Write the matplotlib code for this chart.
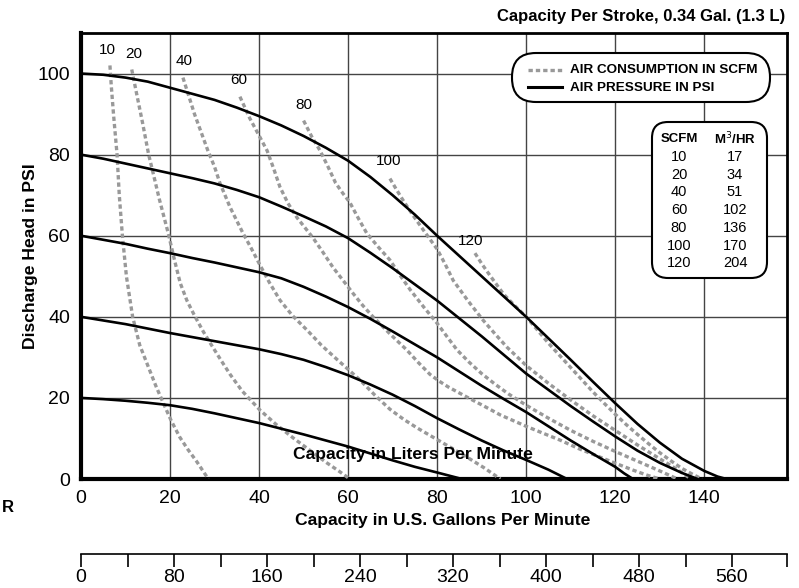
import matplotlib
matplotlib.use('Agg')
import matplotlib.pyplot as plt
from matplotlib.patches import FancyBboxPatch
from matplotlib.lines import Line2D

plt.rcParams['font.family'] = ['Liberation Sans', 'DejaVu Sans']

# air pressure curves (PSI): gallons per minute vs discharge head
psi_100_x = [0, 5, 10, 15, 20, 25, 30, 35, 40, 45, 50, 55, 60, 65, 70, 75, 80, 85, 90, 95, 100,
             105, 110, 115, 120, 125, 130, 135, 140, 143, 145]
psi_100_y = [100, 99.7, 99, 98, 96.5, 95, 93.5, 91.6, 89.5, 87.2, 84.6, 81.7, 78.5, 74.5, 70, 65.2, 60,
             55, 50, 45, 40, 34.7, 29.4, 24, 18.7, 13.6, 9, 5, 2, 0.6, 0]
psi_80_x = [0, 5, 10, 15, 20, 25, 30, 35, 40, 45, 50, 55, 60, 65, 70, 75, 80, 85, 90, 95, 100,
            105, 110, 115, 120, 125, 130, 135, 138.5]
psi_80_y = [80, 79, 77.8, 76.6, 75.4, 74.2, 72.9, 71.3, 69.5, 67.2, 64.8, 62.3, 59.4, 55.8, 52, 48, 44,
            39.6, 35.2, 30.6, 26, 22, 18, 14.2, 10.5, 7, 4, 1.5, 0]
psi_60_x = [0, 5, 10, 15, 20, 25, 30, 35, 40, 45, 50, 55, 60, 65, 70, 75, 80, 85, 90, 95, 100,
            105, 110, 115, 120, 122, 124]
psi_60_y = [60, 59, 58, 56.8, 55.7, 54.5, 53.4, 52.2, 51, 49.5, 47.4, 45, 42.4, 39.5, 36.4, 33.2, 30,
            26.5, 23, 19.7, 16.5, 13, 9.5, 6.2, 3, 1.4, 0]
psi_40_x = [0, 5, 10, 15, 20, 25, 30, 35, 40, 45, 50, 55, 60, 65, 70, 75, 80, 85, 90, 95, 100,
            105, 109.2]
psi_40_y = [40, 39.1, 38.2, 37.1, 36, 35, 34, 33, 32, 30.8, 29.4, 27.6, 25.6, 23.3, 20.8, 18, 15,
            12.2, 9.5, 7, 4.7, 2.3, 0]
psi_20_x = [0, 5, 10, 15, 20, 25, 30, 35, 40, 45, 50, 55, 60, 65, 70, 75, 80, 85.6]
psi_20_y = [20, 19.7, 19.3, 18.8, 18.2, 17.3, 16.2, 15, 13.8, 12.4, 11, 9.5, 8, 6.3, 4.6, 3, 1.6, 0]

# air consumption curves (SCFM)
scfm_10_x = [6.5, 6.8, 7.3, 7.7, 8.1, 8.6, 9.3, 10.2, 11.6, 13.2, 15, 16.8, 18.5, 20.3, 22.2, 24, 26, 28.6]
scfm_10_y = [102, 97, 90, 85, 80, 70, 60, 50, 40, 33, 28, 23, 18.7, 14.3, 10.3, 7.3, 4.3, 0]
scfm_20_x = [11.4, 12.5, 13.8, 15.2, 16.3, 17.6, 19.6, 21, 22.3, 23.8, 25.5, 27.5, 29.5, 31.5, 33.5,
             36.2, 40.2, 44, 47.7, 51.5, 55.2, 58, 60.4]
scfm_20_y = [101, 95, 88, 80, 75, 69, 60.6, 54, 48.3, 44, 40.3, 36.3, 32.7, 29.2, 25.8,
             21.7, 17, 13.3, 10.1, 7, 4, 1.9, 0]
scfm_40_x = [22.9, 24.2, 25.5, 27, 28.5, 30, 31.2, 33.5, 36.4, 38.2, 40, 42.3, 44.7, 47.5, 50.8, 54,
             57.5, 62.7, 66, 69.4, 72.5, 75.5, 79.1, 83, 86.7, 90.5, 94.2]
scfm_40_y = [99, 94.5, 90, 85.5, 81, 77, 73, 67, 60.6, 57, 53.2, 48.5, 44.1, 40.3, 36.7, 33,
             29.5, 24.4, 20.7, 17.2, 14.7, 12.6, 10.3, 7.8, 5.4, 2.8, 0]
scfm_60_x = [35.7, 37.9, 40.2, 41.8, 43.3, 44.7, 46.5, 48.5, 50.3, 52.1, 54.3, 56.6, 59, 61.1, 63.3,
             65.6, 69.4, 73.2, 75.8, 78.4, 80.5, 82.5, 86.7, 90.5, 94.2, 100, 104, 107.6, 112, 116.6,
             120, 124, 127, 130]
scfm_60_y = [94.3, 89, 84.3, 81, 76.5, 72, 68, 64.5, 62, 59.5, 56, 52.2, 48.8, 45.8, 42.8,
             40, 35.8, 31.8, 28.7, 25.8, 24.1, 22.7, 20.2, 18, 15.8, 13, 11.2, 9.6, 7.4, 5.4,
             3.9, 2.2, 1, 0]
scfm_80_x = [50, 51.8, 53.7, 55.5, 57.2, 58.8, 60.4, 62.3, 64.2, 66.8, 69.4, 71.7, 74, 77, 80, 82.3,
             84.5, 87.2, 90, 93, 96, 100, 105, 110, 115, 120, 125, 130, 134]
scfm_80_y = [88.4, 84.5, 81, 77, 73, 70.5, 68.2, 64.3, 60.6, 57.2, 54, 50.2, 46.6, 42.4, 38.4, 35,
             31.8, 28.8, 26, 23.4, 21, 18.2, 15, 12, 9.3, 6.8, 4.4, 2, 0]
scfm_100_x = [69.4, 70.8, 72.2, 74.6, 77.3, 80, 81.8, 83.6, 86.9, 90.3, 93, 95.7, 100, 105, 110, 115,
              120, 125, 130, 134, 137]
scfm_100_y = [74.1, 71.5, 69, 65, 60.8, 56.7, 53, 49, 44, 39.2, 35.8, 32.5, 28, 23.6, 19.5, 15.6,
              12, 8.4, 5, 2.3, 0]
scfm_120_x = [88.5, 90.2, 92, 95, 97.5, 100, 102.5, 105, 107.5, 110, 112.5, 115, 117.5, 120, 122.5,
              125, 127.5, 130, 132.5, 135, 137.5, 139.5]
scfm_120_y = [55.7, 52.8, 50, 45.5, 42.7, 40, 36.8, 33.5, 30.5, 27.5, 24.5, 21.5, 18.7, 16, 13.4,
              11, 8.7, 6.5, 4.5, 2.6, 1.1, 0]

psi_curves = [(psi_100_x, psi_100_y), (psi_80_x, psi_80_y), (psi_60_x, psi_60_y),
              (psi_40_x, psi_40_y), (psi_20_x, psi_20_y)]
scfm_curves = [(scfm_10_x, scfm_10_y), (scfm_20_x, scfm_20_y), (scfm_40_x, scfm_40_y),
               (scfm_60_x, scfm_60_y), (scfm_80_x, scfm_80_y), (scfm_100_x, scfm_100_y),
               (scfm_120_x, scfm_120_y)]

scfm_labels = ['10', '20', '40', '60', '80', '100', '120']
scfm_label_x = [6, 11.8, 23.2, 35.5, 50, 69, 87.5]
scfm_label_y = [105.8, 104.8, 103.2, 98.5, 92.3, 78.5, 58.8]

table_scfm = ['10', '20', '40', '60', '80', '100', '120']
table_m3hr = ['17', '34', '51', '102', '136', '170', '204']

gal_ticks = [0, 20, 40, 60, 80, 100, 120, 140]
psi_ticks = [0, 20, 40, 60, 80, 100]
liter_labels = [0, 80, 160, 240, 320, 400, 480, 560]

W, H = 799, 588
fig = plt.figure(figsize=(W / 100, H / 100), dpi=100)
ax = fig.add_axes([81 / W, 1 - 479 / H, (787 - 81) / W, (479 - 33) / H])

dash = (0, (1.3, 0.9))
for x, y in scfm_curves:
    ax.plot(x, y, color='#999999', lw=2.4, ls=dash, zorder=3)
for x, y in psi_curves:
    ax.plot(x, y, color='black', lw=1.9, zorder=4, solid_joinstyle='round')

for lab, lx, ly in zip(scfm_labels, scfm_label_x, scfm_label_y):
    ax.text(lx, ly, lab, fontsize=11, ha='center', va='center', zorder=5)

ax.set_xlim(0, 158.6)
ax.set_ylim(0, 110)
ax.set_xticks(gal_ticks)
ax.set_yticks(psi_ticks)
ax.tick_params(length=0, labelsize=14, pad=8)
ax.grid(True, color='#444444', lw=1.0, zorder=1)
ax.set_axisbelow(True)
for side in ['left', 'bottom']:
    ax.spines[side].set_linewidth(3)
for side in ['top', 'right']:
    ax.spines[side].set_linewidth(2)

ax.set_xlabel('Capacity in U.S. Gallons Per Minute', fontsize=12.6, fontweight='bold')
ax.xaxis.set_label_coords((443 - 81) / 706, (479 - 513) / 446)
ax.set_ylabel('Discharge Head in PSI', fontsize=12.6, fontweight='bold')
ax.yaxis.set_label_coords((38 - 81) / 706, 0.5)
ax.text((413 - 81) / 706, (479 - 455) / 446, 'Capacity in Liters Per Minute', transform=ax.transAxes,
        fontsize=12.6, fontweight='bold', ha='center', va='center', zorder=6)

fig.text(785 / W, 1 - 16 / H, 'Capacity Per Stroke, 0.34 Gal. (1.3 L)', fontsize=12,
         fontweight='bold', ha='right', va='center')
fig.text(2 / W, 1 - 508 / H, 'R', fontsize=12, fontweight='bold', ha='left', va='center')


def fig_box(x0, y0, x1, y1, rad):
    b = FancyBboxPatch((x0 / W, 1 - y1 / H), (x1 - x0) / W, (y1 - y0) / H,
                       boxstyle='round,pad=0,rounding_size=%f' % rad,
                       transform=fig.transFigure, facecolor='white', edgecolor='black',
                       lw=1.5, zorder=10, mutation_aspect=W / H)
    fig.add_artist(b)


# legend box
fig_box(512, 53, 770, 102, 0.03)
fig.add_artist(Line2D([528 / W, 562 / W], [1 - 70 / H, 1 - 70 / H], color='#999999', lw=2.4,
                      ls=dash, transform=fig.transFigure, zorder=11))
fig.add_artist(Line2D([528 / W, 562 / W], [1 - 87 / H, 1 - 87 / H], color='black', lw=2.2,
                      transform=fig.transFigure, zorder=11))
fig.text(570 / W, 1 - 70 / H, 'AIR CONSUMPTION IN SCFM', fontsize=9.7, fontweight='bold',
         va='center', ha='left', zorder=12)
fig.text(570 / W, 1 - 88 / H, 'AIR PRESSURE IN PSI', fontsize=9.7, fontweight='bold',
         va='center', ha='left', zorder=12)

# conversion table
fig_box(652, 122, 767, 278, 0.02)
fig.text(679 / W, 1 - 139 / H, 'SCFM', fontsize=9.5, fontweight='bold', ha='center', va='center', zorder=12)
fig.text(735 / W, 1 - 139 / H, 'M$^{3}$/HR', fontsize=9.5, fontweight='bold', ha='center', va='center', zorder=12)
for i, (a, b) in enumerate(zip(table_scfm, table_m3hr)):
    yy = 1 - (157 + i * 17.7) / H
    fig.text(679 / W, yy, a, fontsize=10.5, ha='center', va='center', zorder=12)
    fig.text(735 / W, yy, b, fontsize=10.5, ha='center', va='center', zorder=12)

# liters per minute scale
lax = fig.add_axes([81 / W, 1 - 555 / H, (787 - 81) / W, 0.001])
lax.set_xlim(0, 607)
lax.set_ylim(0, 1)
lax.patch.set_visible(False)
for side in ['left', 'right', 'bottom']:
    lax.spines[side].set_visible(False)
lax.spines['top'].set_linewidth(1.2)
lax.set_yticks([])
lax.xaxis.set_ticks_position('top')
lax.set_xticks(list(range(0, 561, 40)) + [607])
lax.set_xticklabels([])
lax.tick_params(axis='x', direction='in', length=9, width=1.2)
for v in liter_labels:
    fig.text((81 + v * 651 / 560) / W, 1 - 577 / H, str(v), fontsize=14, ha='center', va='center')

fig.savefig('out.png', dpi=100)
